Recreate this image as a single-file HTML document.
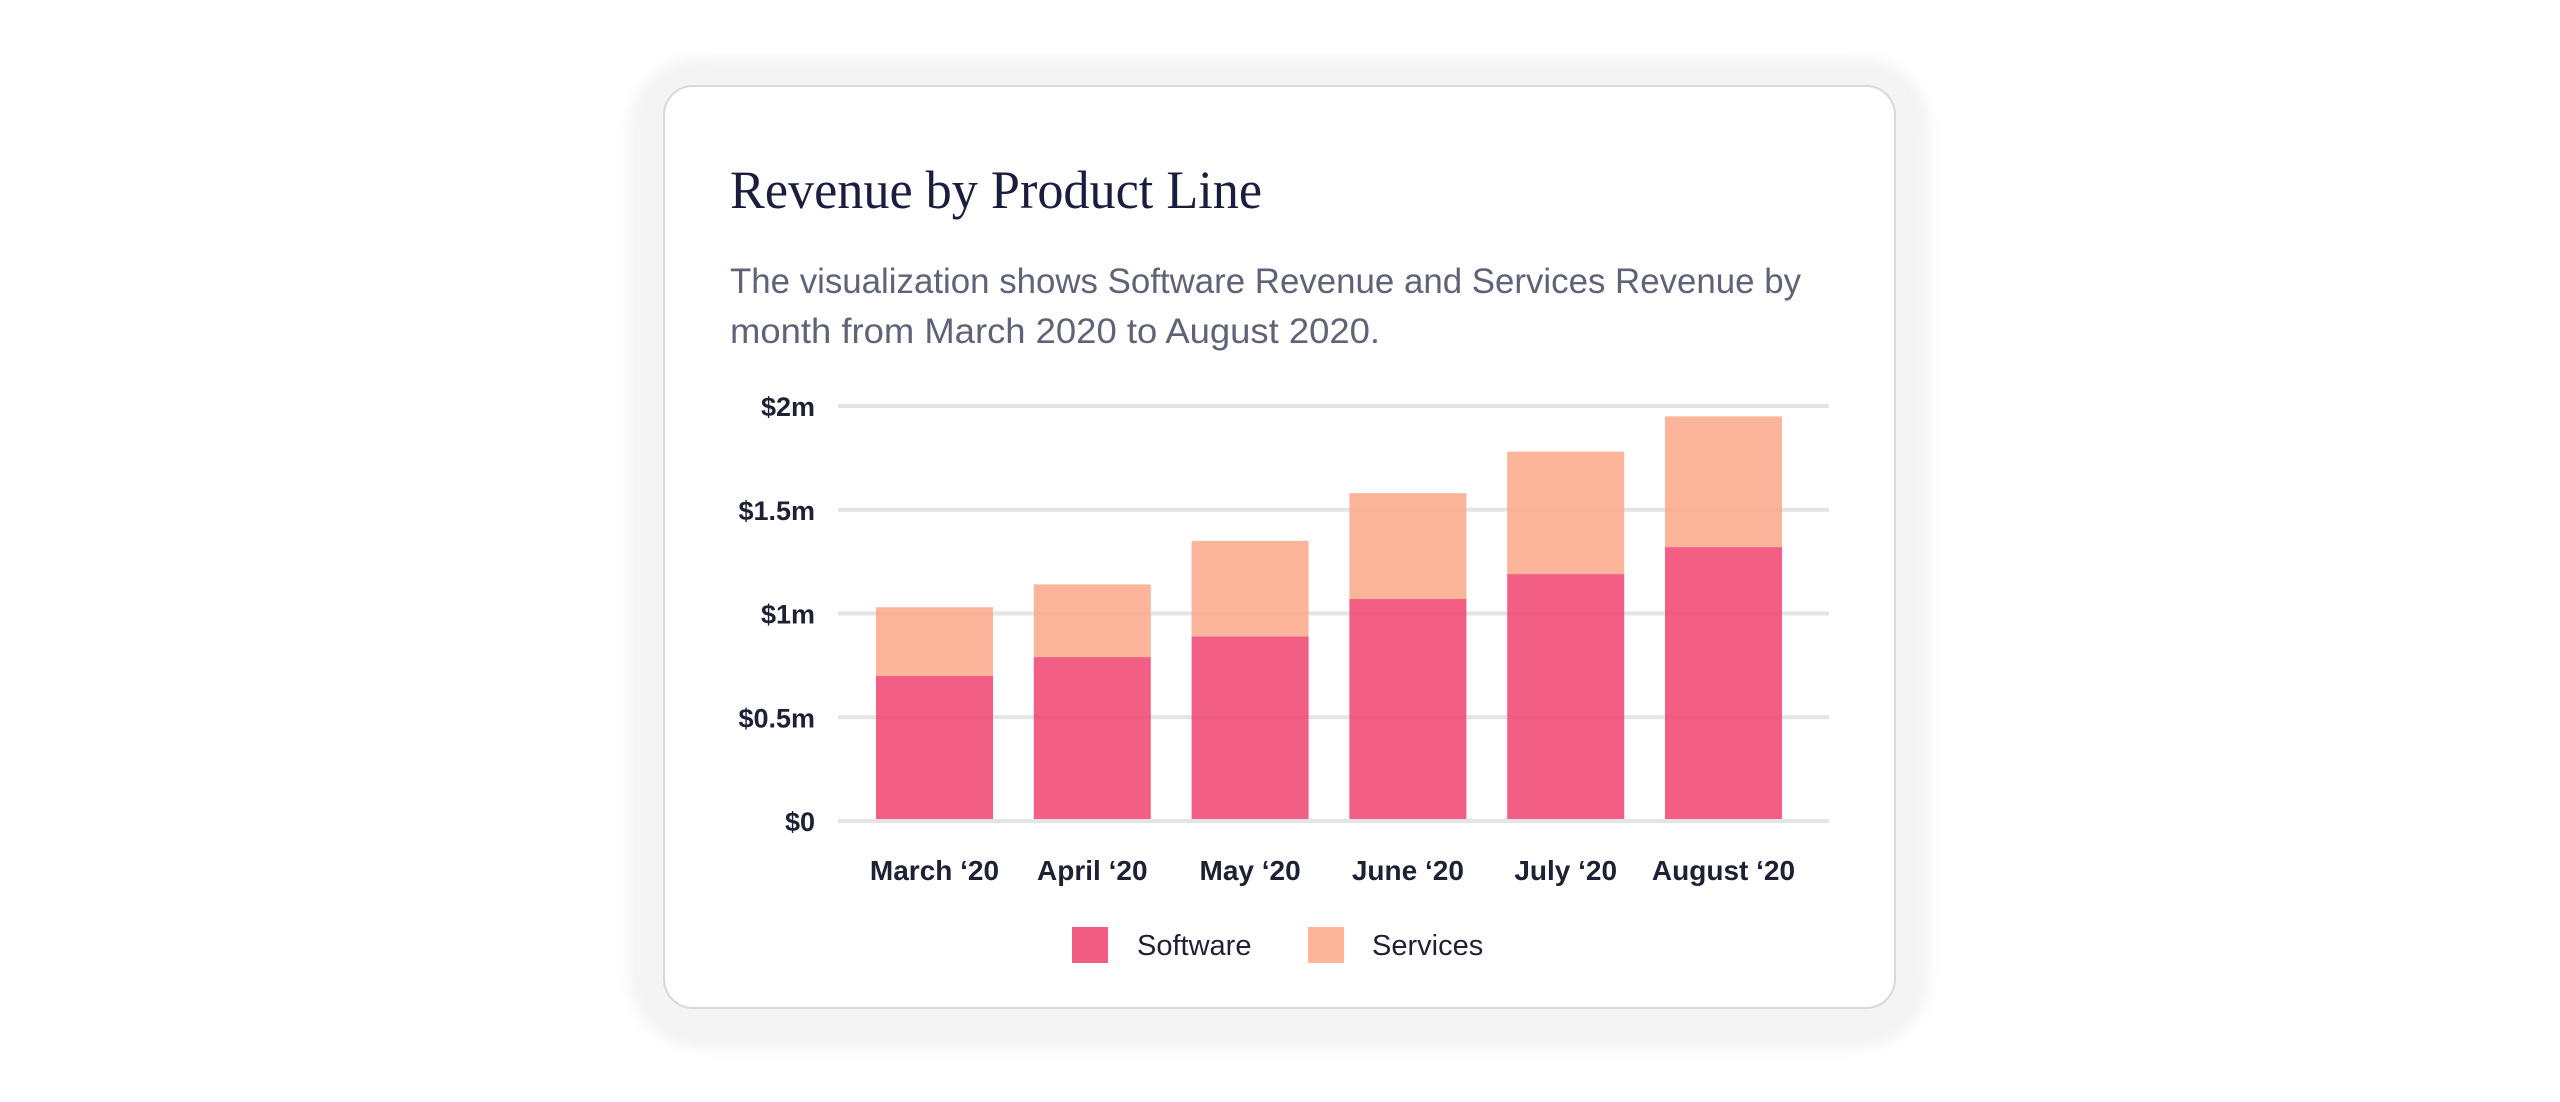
<!DOCTYPE html>
<html><head><meta charset="utf-8"><style>
html,body{margin:0;padding:0;background:#fff;}
body{width:2560px;height:1102px;position:relative;overflow:hidden;font-family:"Liberation Sans",sans-serif;}
#outer{position:absolute;left:629px;top:57px;width:1301px;height:991px;border-radius:70px;background:#f4f4f5;filter:blur(6px);}
#card{position:absolute;left:663px;top:85px;width:1229px;height:920px;border-radius:30px;background:#fff;border:2px solid #d9d9dc;}
svg{position:absolute;left:0;top:0;}
</style></head><body>
<div id="outer"></div>
<div id="card"></div>
<svg id="chart" width="2560" height="1102">
<text x="730" y="208" font-family="Liberation Serif, serif" font-size="54" fill="#1a1d3d" textLength="532" lengthAdjust="spacingAndGlyphs">Revenue by Product Line</text>
<text x="730" y="293" font-size="35" fill="#5f6378" textLength="1071" lengthAdjust="spacingAndGlyphs">The visualization shows Software Revenue and Services Revenue by</text>
<text x="730" y="343" font-size="35" fill="#5f6378" textLength="650" lengthAdjust="spacingAndGlyphs">month from March 2020 to August 2020.</text>
<g id="grid"></g><g id="bars"></g><g id="xlabels"></g>
<g>
<rect x="1072" y="927" width="36" height="36" fill="#f25b84"/>
<text x="1137" y="955" font-size="29" fill="#1d2133">Software</text>
<rect x="1308" y="927" width="36" height="36" fill="#fdb69a"/>
<text x="1372" y="955" font-size="29" fill="#1d2133">Services</text>
</g>
</svg>
<script>
const categories = ["March \u201820","April \u201820","May \u201820","June \u201820","July \u201820","August \u201820"];
const software = [0.70,0.79,0.89,1.07,1.19,1.32];
const services = [0.33,0.35,0.46,0.51,0.59,0.63];
const yTicks = [0,0.5,1,1.5,2];
const yTickLabels = ["$0","$0.5m","$1m","$1.5m","$2m"];
const NS="http://www.w3.org/2000/svg";
const y0=821, y1=406, yMax=2;
const y = v => y0 - (v/yMax)*(y0-y1);
const xStart=876, step=157.8, bw=117;
const x = i => xStart + i*step;
const grid=document.getElementById('grid'), bars=document.getElementById('bars'), xl=document.getElementById('xlabels');
function mk(tag,attrs){const e=document.createElementNS(NS,tag);for(const k in attrs)e.setAttribute(k,attrs[k]);return e;}
yTicks.forEach((t,i)=>{
  const l=mk('line',{x1:838,x2:1829,y1:y(t),y2:y(t),stroke:'#e4e4e7','stroke-width':4});
  
  
  grid.appendChild(l);
  const tx=mk('text',{x:815,y:y(t)+10,'text-anchor':'end','font-size':27,'font-weight':'bold',fill:'#1d2133'});
  tx.textContent=yTickLabels[i];
  
  
  grid.appendChild(tx);
});
categories.forEach((c,i)=>{
  const sw=mk('rect',{x:x(i),y:y(software[i]),width:bw,height:y(0)-2-y(software[i]),fill:'#f0426f','fill-opacity':0.85});
  
  
  bars.appendChild(sw);
  const tot=software[i]+services[i];
  const sv=mk('rect',{x:x(i),y:y(tot),width:bw,height:y(software[i])-y(tot),fill:'#fca788','fill-opacity':0.85});
  
  
  bars.appendChild(sv);
  const t=mk('text',{x:x(i)+bw/2,y:880,'text-anchor':'middle','font-size':28,'font-weight':'bold',fill:'#1d2133'});
  t.textContent=c;
  
  
  xl.appendChild(t);
});
</script>
</body></html>
